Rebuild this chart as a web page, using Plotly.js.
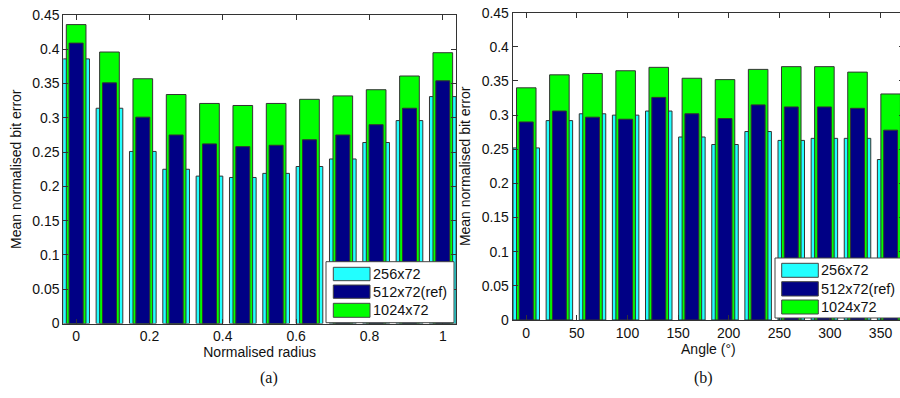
<!DOCTYPE html>
<html>
<head>
<meta charset="utf-8">
<script src="https://cdn.plot.ly/plotly-3.0.1.min.js"></script>
<style>
html,body{margin:0;padding:0;overflow:hidden;background:#fff;}
#chart{width:910px;height:398px;}
</style>
</head>
<body>
<div id="chart"></div>
<script>
// ---- data ----
const seriesNames = ["256x72", "512x72(ref)", "1024x72"];
const radius = [0, 1/11, 2/11, 3/11, 4/11, 5/11, 6/11, 7/11, 8/11, 9/11, 10/11, 1];
const radius256  = [0.386, 0.314, 0.251, 0.225, 0.215, 0.213, 0.219, 0.229, 0.240, 0.264, 0.296, 0.331];
const radius512  = [0.409, 0.351, 0.301, 0.275, 0.262, 0.258, 0.260, 0.268, 0.275, 0.290, 0.314, 0.354];
const radius1024 = [0.436, 0.396, 0.357, 0.334, 0.321, 0.318, 0.321, 0.327, 0.332, 0.341, 0.361, 0.395];

const angle = [0, 360/11, 720/11, 1080/11, 1440/11, 1800/11, 2160/11, 2520/11, 2880/11, 3240/11, 3600/11, 360];
const angle256  = [0.252, 0.292, 0.302, 0.300, 0.306, 0.268, 0.257, 0.276, 0.263, 0.266, 0.266, 0.235];
const angle512  = [0.290, 0.306, 0.297, 0.294, 0.326, 0.302, 0.295, 0.315, 0.312, 0.312, 0.310, 0.278];
const angle1024 = [0.340, 0.359, 0.361, 0.365, 0.370, 0.354, 0.352, 0.367, 0.371, 0.371, 0.363, 0.331];

const yTickVals = [0, 0.05, 0.1, 0.15, 0.2, 0.25, 0.3, 0.35, 0.4, 0.45];
const yTickText = ["0", "0.05", "0.1", "0.15", "0.2", "0.25", "0.3", "0.35", "0.4", "0.45"];
const radiusTickVals = [0, 0.2, 0.4, 0.6, 0.8, 1];
const radiusTickText = ["0", "0.2", "0.4", "0.6", "0.8", "1"];
const angleTickVals = [0, 50, 100, 150, 200, 250, 300, 350];
const angleTickText = ["0", "50", "100", "150", "200", "250", "300", "350"];

// ---- styling ----
const colors = ["#22FFFF", "#000085", "#00FF00"];
const widthFrac = [0.80, 0.42, 0.59]; // fraction of bar spacing
const W = 910, H = 398;
const px = x => x / W;
const py = y => 1 - y / H;
const FONT = "Liberation Sans, Arial, sans-serif";
const FS = 14;

function barTrace(x, y, i, xa, ya, spacing) {
  return {
    type: "bar", x: x, y: y, xaxis: xa, yaxis: ya,
    width: widthFrac[i] * spacing,
    marker: {color: colors[i], line: {color: "#333", width: 1}},
    name: seriesNames[i], showlegend: false, hoverinfo: "x+y"
  };
}
const sA = radius[1] - radius[0];
const sB = angle[1] - angle[0];
// draw order: cyan (back), green, navy (front)
const data = [
  barTrace(radius, radius256, 0, "x", "y", sA),
  barTrace(radius, radius1024, 2, "x", "y", sA),
  barTrace(radius, radius512, 1, "x", "y", sA),
  barTrace(angle, angle256, 0, "x2", "y2", sB),
  barTrace(angle, angle1024, 2, "x2", "y2", sB),
  barTrace(angle, angle512, 1, "x2", "y2", sB)
];

function axisBase() {
  return {
    showgrid: false, zeroline: false, showline: true, linecolor: "#333", linewidth: 1,
    mirror: "allticks", ticks: "inside", ticklen: 5, tickcolor: "#333", tickwidth: 1,
    tickfont: {family: FONT, size: FS, color: "#111"}
  };
}

const layout = {
  width: W, height: H,
  margin: {l: 0, r: 0, t: 0, b: 0},
  paper_bgcolor: "#fff", plot_bgcolor: "#fff",
  barmode: "overlay", bargap: 0,
  showlegend: false,
  xaxis: Object.assign(axisBase(), {
    domain: [px(63.3), px(456)], range: [-0.035, 1.036], anchor: "y",
    tickmode: "array", tickvals: radiusTickVals, ticktext: radiusTickText,
    title: {text: "Normalised radius", font: {family: FONT, size: FS, color: "#111"}, standoff: 2}
  }),
  yaxis: Object.assign(axisBase(), {
    domain: [py(323.5), py(15)], range: [0, 0.45], anchor: "x",
    tickmode: "array", tickvals: yTickVals, ticktext: yTickText,
    title: {text: "Mean normalised bit error", font: {family: FONT, size: FS, color: "#111"}, standoff: 7}
  }),
  xaxis2: Object.assign(axisBase(), {
    domain: [px(512.7), px(904)], range: [-13.4, 373.2], anchor: "y2",
    tickmode: "array", tickvals: angleTickVals, ticktext: angleTickText,
    title: {text: "Angle (°)", font: {family: FONT, size: FS, color: "#111"}, standoff: 2}
  }),
  yaxis2: Object.assign(axisBase(), {
    domain: [py(320), py(12.7)], range: [0, 0.45], anchor: "x2",
    tickmode: "array", tickvals: yTickVals, ticktext: yTickText,
    title: {text: "Mean normalised bit error", font: {family: FONT, size: FS, color: "#111"}, standoff: 7}
  }),
  shapes: [],
  annotations: [
    {text: "(a)", xref: "paper", yref: "paper", x: px(258), y: py(389), showarrow: false,
     font: {family: "Liberation Serif, DejaVu Serif, serif", size: 16, color: "#111"}},
    {text: "(b)", xref: "paper", yref: "paper", x: px(715), y: py(389), showarrow: false,
     font: {family: "Liberation Serif, DejaVu Serif, serif", size: 16, color: "#111"}}
  ]
};

// custom MATLAB-style legends
function addLegend(box, swX0, swX1, rows, textX) {
  layout.shapes.push({type: "rect", xref: "paper", yref: "paper", layer: "above",
    x0: px(box[0]), x1: px(box[1]), y0: py(box[3]), y1: py(box[2]),
    fillcolor: "#fff", line: {color: "#444", width: 1}});
  for (let i = 0; i < 3; i++) {
    const r = rows[i];
    layout.shapes.push({type: "rect", xref: "paper", yref: "paper", layer: "above",
      x0: px(swX0), x1: px(swX1), y0: py(r[1]), y1: py(r[0]),
      fillcolor: colors[i], line: {color: "#444", width: 1}});
    layout.annotations.push({text: seriesNames[i], xref: "paper", yref: "paper",
      x: px(textX), y: py((r[0] + r[1]) / 2), xanchor: "left", yanchor: "middle", showarrow: false,
      font: {family: FONT, size: 14.5, color: "#111"}});
  }
}
addLegend([326, 454, 261.7, 322.7], 333.3, 370, [[267.3, 280.7], [285, 298.3], [303.3, 317.3]], 370.5);
addLegend([775, 910, 258, 318], 781.7, 818.3, [[263.3, 277.3], [281.7, 296], [300, 314]], 818.5);

Plotly.newPlot("chart", data, layout, {staticPlot: true, displayModeBar: false});
</script>
</body>
</html>
